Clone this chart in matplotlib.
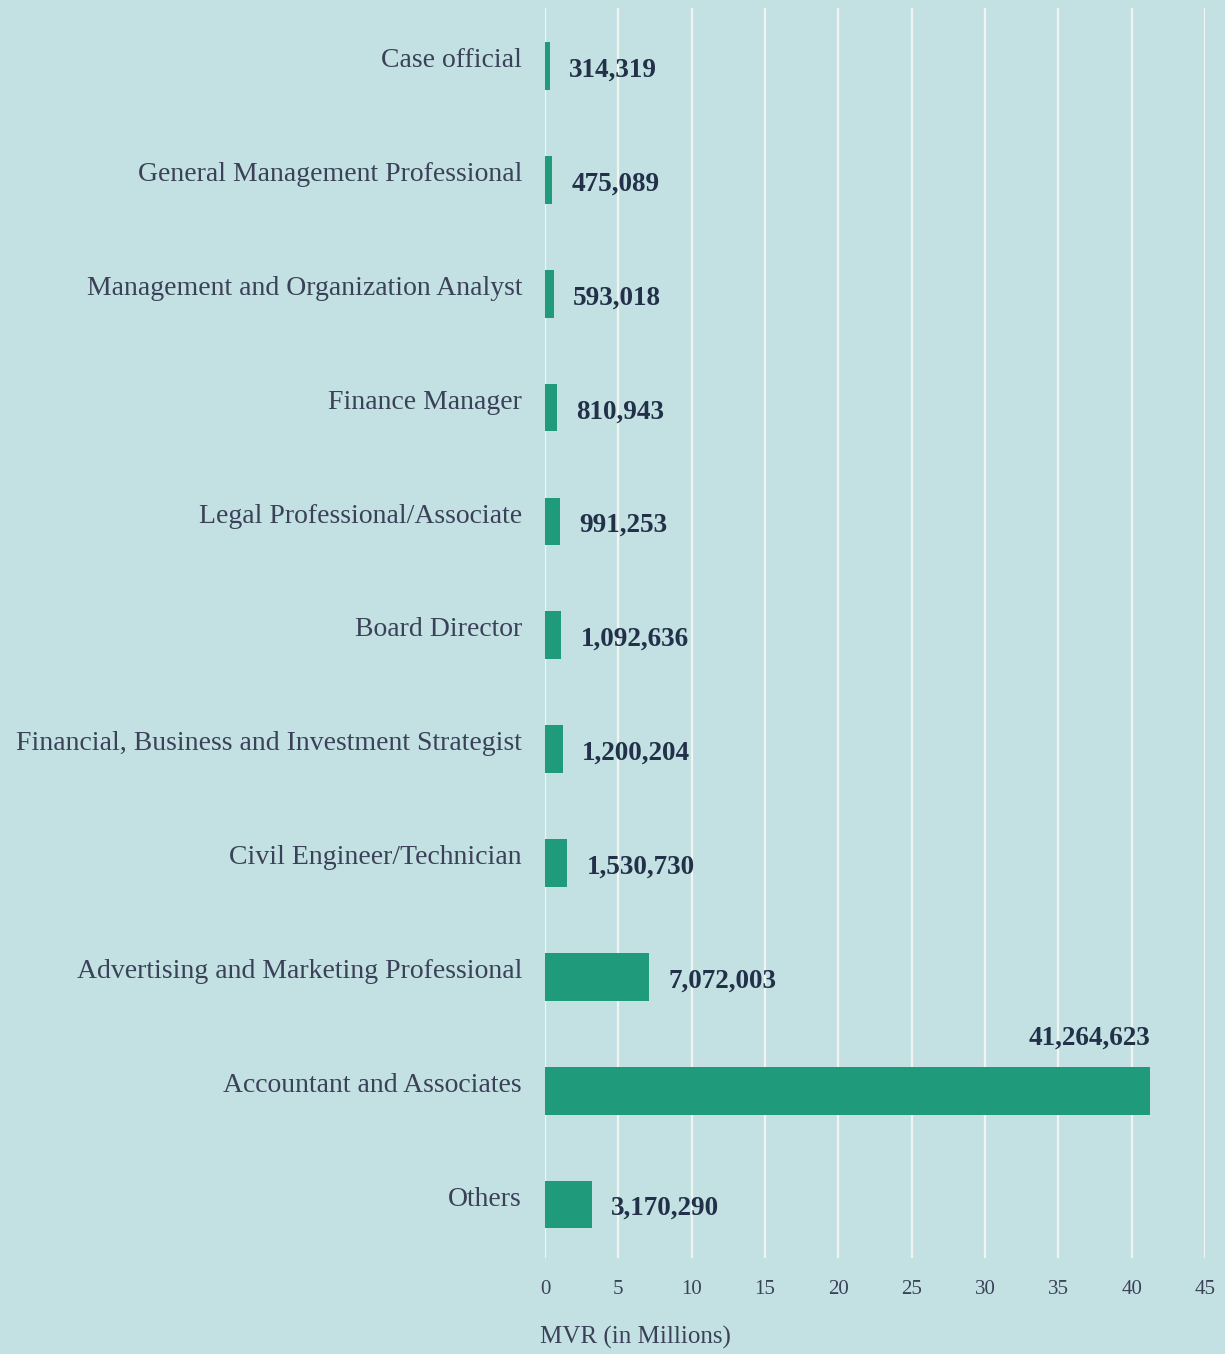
import matplotlib
matplotlib.use("Agg")
import matplotlib.pyplot as plt
import matplotlib.transforms as mtransforms

# data (top to bottom)
categories = [
    "Case official",
    "General Management Professional",
    "Management and Organization Analyst",
    "Finance Manager",
    "Legal Professional/Associate",
    "Board Director",
    "Financial, Business and Investment Strategist",
    "Civil Engineer/Technician",
    "Advertising and Marketing Professional",
    "Accountant and Associates",
    "Others",
]
values = [314319, 475089, 593018, 810943, 991253, 1092636,
          1200204, 1530730, 7072003, 41264623, 3170290]
xticks = [0, 5, 10, 15, 20, 25, 30, 35, 40, 45]

BG = "#c3e1e2"
BAR = "#1f9a7a"
LABEL = "#3a4158"
VALUE = "#233049"
FONT = ["Liberation Serif", "DejaVu Serif"]

plt.rcParams["font.family"] = FONT

fig = plt.figure(figsize=(12.25, 13.54), dpi=100, facecolor=BG)
ax = fig.add_axes([0.4449, 0.0709, 0.5388, 0.9232], facecolor=BG)

ypos = list(range(len(categories)))
millions = [v / 1e6 for v in values]
ax.barh(ypos, millions, height=0.42, color=BAR, zorder=3)

ax.set_xlim(0, 45)
ax.set_ylim(len(categories) - 0.53, -0.51)
ax.set_xticks(xticks)
ax.set_xticklabels([str(t) for t in xticks], fontsize=15, color=LABEL)
ax.set_yticks(ypos)
ax.set_yticklabels(categories, fontsize=20, color=LABEL)
ax.tick_params(axis="both", length=0)
ax.tick_params(axis="y", pad=16.5)
ax.tick_params(axis="x", pad=16)
for lab in ax.get_yticklabels():
    lab.set_transform(lab.get_transform() +
                      mtransforms.ScaledTranslation(0, 6 / 72, fig.dpi_scale_trans))

for s in ax.spines.values():
    s.set_visible(False)
ax.grid(axis="x", color="#f2f4f2", linewidth=1.6, zorder=1)
ax.grid(axis="y", visible=False)

biggest = max(millions)
for y, m, v in zip(ypos, millions, values):
    txt = f"{v:,}"
    if m == biggest:
        ax.annotate(txt, (m, y), xytext=(0, 38), textcoords="offset points",
                    ha="right", va="center", fontsize=19.5, fontweight="bold",
                    color=VALUE)
    else:
        ax.annotate(txt, (m, y), xytext=(14, -3), textcoords="offset points",
                    ha="left", va="center", fontsize=19.5, fontweight="bold",
                    color=VALUE)

fig.text(540 / 1225, 1 - 1337 / 1354, "MVR (in Millions)", fontsize=18,
         color=LABEL, ha="left", va="center")

fig.savefig("out.png", dpi=100, facecolor=BG)
